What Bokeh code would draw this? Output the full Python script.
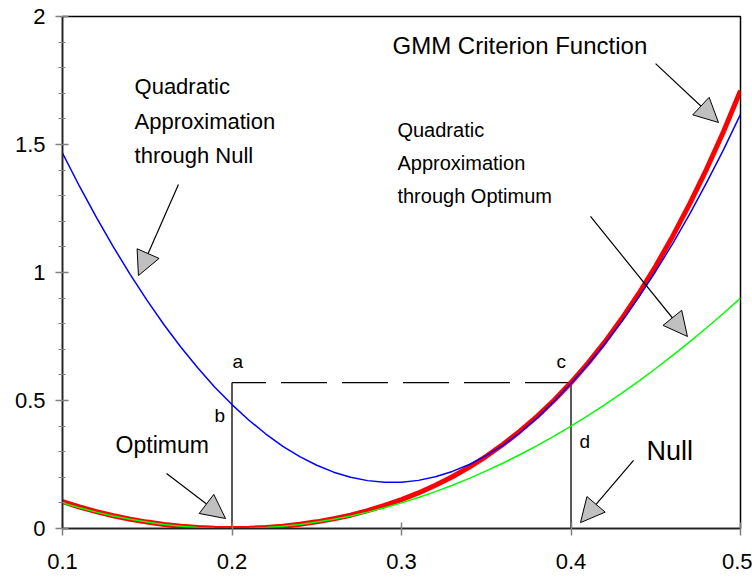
from bokeh.plotting import figure
from bokeh.models import (Range1d, FixedTicker, Arrow, NormalHead, Label,
                          ColumnDataSource)
from bokeh.embed import file_html
from bokeh.resources import INLINE

# ---------------- data ----------------
theta = [0.10, 0.11, 0.12, 0.13, 0.14, 0.15, 0.16, 0.17, 0.18, 0.19,
         0.20, 0.21, 0.22, 0.23, 0.24, 0.25, 0.26, 0.27, 0.28, 0.29,
         0.30, 0.31, 0.32, 0.33, 0.34, 0.35, 0.36, 0.37, 0.38, 0.39,
         0.40, 0.41, 0.42, 0.43, 0.44, 0.45, 0.46, 0.47, 0.48, 0.49, 0.50]

gmm_criterion = [0.105, 0.084, 0.066, 0.050, 0.036, 0.025, 0.016, 0.009, 0.004, 0.001,
                 0.000, 0.001, 0.004, 0.009, 0.017, 0.026, 0.038, 0.052, 0.070, 0.090,
                 0.113, 0.139, 0.169, 0.202, 0.240, 0.282, 0.329, 0.381, 0.438, 0.501,
                 0.570, 0.646, 0.729, 0.820, 0.918, 1.025, 1.142, 1.268, 1.404, 1.551, 1.710]

quad_optimum = [0.100, 0.081, 0.064, 0.049, 0.036, 0.025, 0.016, 0.009, 0.004, 0.001,
                0.000, 0.001, 0.004, 0.009, 0.016, 0.025, 0.036, 0.049, 0.064, 0.081,
                0.100, 0.121, 0.144, 0.169, 0.196, 0.225, 0.256, 0.289, 0.324, 0.361,
                0.400, 0.441, 0.484, 0.529, 0.576, 0.625, 0.676, 0.729, 0.784, 0.841, 0.900]

quad_null = [1.466, 1.337, 1.215, 1.100, 0.992, 0.890, 0.795, 0.707, 0.626, 0.551,
             0.484, 0.423, 0.369, 0.321, 0.281, 0.247, 0.220, 0.200, 0.187, 0.181,
             0.181, 0.188, 0.202, 0.223, 0.250, 0.285, 0.326, 0.375, 0.432, 0.497,
             0.566, 0.641, 0.722, 0.809, 0.904, 1.005, 1.113, 1.228, 1.351, 1.480, 1.618]

optimum_x = 0.2
null_x = 0.4
null_level = gmm_criterion[theta.index(null_x)]

x_ticks = [0.1, 0.2, 0.3, 0.4, 0.5]
x_tick_labels = ["0.1", "0.2", "0.3", "0.4", "0.5"]
y_ticks = [0, 0.5, 1, 1.5, 2]
y_tick_labels = ["0", "0.5", "1", "1.5", "2"]
y_minor = [0.1, 0.2, 0.3, 0.4, 0.6, 0.7, 0.8, 0.9, 1.1, 1.2, 1.3, 1.4,
           1.6, 1.7, 1.8, 1.9]

FONT = "Liberation Sans"

p = figure(width=752, height=578, output_backend="svg", toolbar_location=None,
           x_range=Range1d(0.1, 0.5), y_range=Range1d(0, 2),
           min_border_left=62, min_border_right=12, min_border_top=16,
           min_border_bottom=50)
p.background_fill_color = "white"
p.border_fill_color = "white"
p.outline_line_color = "black"
p.outline_line_width = 1.5
p.grid.visible = False

p.xaxis.ticker = FixedTicker(ticks=x_ticks)
p.xaxis.major_label_overrides = dict(zip(x_ticks, x_tick_labels))
p.yaxis.ticker = FixedTicker(ticks=y_ticks, minor_ticks=y_minor)
p.yaxis.major_label_overrides = dict(zip(y_ticks, y_tick_labels))

for ax in (p.xaxis, p.yaxis):
    ax.axis_line_color = "#222222"
    ax.axis_line_width = 1.5
    ax.major_tick_line_color = "#808080"
    ax.major_tick_line_width = 1.5
    ax.major_tick_in = 6
    ax.major_tick_out = 7
    ax.major_label_text_font = FONT
    ax.major_label_text_font_size = "22px"
    ax.major_label_text_color = "black"

p.xaxis.minor_tick_in = 0
p.xaxis.minor_tick_out = 0
p.xaxis.major_label_standoff = 18
p.yaxis.minor_tick_line_color = "#808080"
p.yaxis.minor_tick_line_width = 1.2
p.yaxis.minor_tick_in = 3
p.yaxis.minor_tick_out = 4
p.yaxis.major_label_standoff = 10

src = ColumnDataSource(dict(x=theta, gmm=gmm_criterion, qo=quad_optimum, qn=quad_null))

# reference lines
p.segment(x0=[optimum_x, null_x], y0=[0, 0], x1=[optimum_x, null_x],
          y1=[null_level, null_level], line_color="#222222", line_width=1.5)
p.line(x=[null_x, optimum_x], y=[null_level, null_level], line_color="black",
       line_width=1.3, line_dash="46 15")

# curves
p.line("x", "gmm", source=src, line_color="#ff0000", line_width=5)
p.line("x", "qo", source=src, line_color="#00ff00", line_width=1.5)
p.line("x", "qn", source=src, line_color="#0000ff", line_width=1.5)

# arrows
arrows = [
    (0.1684, 1.344, 0.1448, 0.988),
    (0.4499, 1.816, 0.4870, 1.586),
    (0.4115, 1.219, 0.4687, 0.750),
    (0.1614, 0.215, 0.1962, 0.039),
    (0.4369, 0.266, 0.4056, 0.023),
]
for xs, ys, xe, ye in arrows:
    p.add_layout(Arrow(end=NormalHead(size=24, fill_color="#c0c0c0",
                                      line_color="black", line_width=1),
                       x_start=xs, y_start=ys, x_end=xe, y_end=ye,
                       line_color="black", line_width=1.2))

labels = [
    ("Quadratic", 0.1425, 1.699, 22),
    ("Approximation", 0.1425, 1.5625, 22),
    ("through Null", 0.1425, 1.4297, 22),
    ("GMM Criterion Function", 0.2947, 1.855, 24),
    ("Quadratic", 0.2976, 1.531, 20),
    ("Approximation", 0.2976, 1.402, 20),
    ("through Optimum", 0.2976, 1.270, 20),
    ("Optimum", 0.1313, 0.293, 23),
    ("Null", 0.4445, 0.2695, 27),
    ("a", 0.2003, 0.629, 19),
    ("b", 0.1897, 0.418, 19),
    ("c", 0.3914, 0.629, 19),
    ("d", 0.4050, 0.316, 19),
]
for txt, lx, ly, fs in labels:
    p.add_layout(Label(x=lx, y=ly, text=txt, text_font=FONT,
                       text_font_size=f"{fs}px", y_offset=round(0.34 * fs),
                       text_baseline="alphabetic", text_align="left",
                       text_color="black"))

open("out.html", "w").write(file_html(p, INLINE))
